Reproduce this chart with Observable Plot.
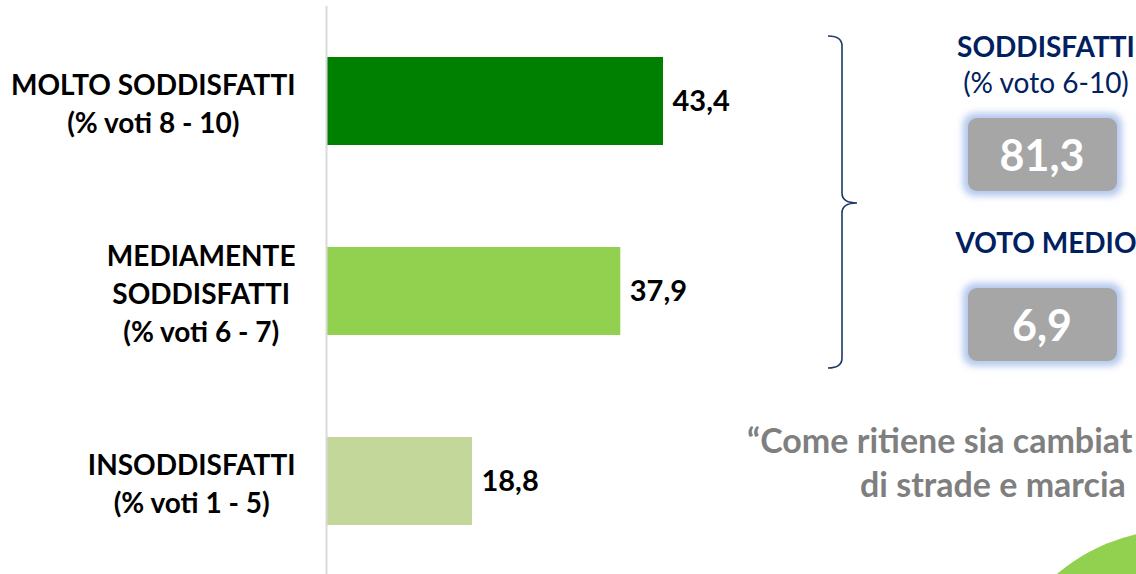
<!DOCTYPE html>
<html>
<head>
<meta charset="utf-8">
<script src="https://cdn.jsdelivr.net/npm/d3@7"></script>
<script src="https://cdn.jsdelivr.net/npm/@observablehq/plot@0.6"></script>
<style>
  html, body { margin: 0; padding: 0; background: #fff; }
  #chart { width: 1136px; height: 574px; overflow: hidden; position: relative; }
  svg { font-family: Lato, "Open Sans", sans-serif; }
</style>
</head>
<body>
<div id="chart"></div>
<script>
// ---- data ----
const categories = ["MOLTO SODDISFATTI\n(% voti 8 - 10)", "MEDIAMENTE\nSODDISFATTI\n(% voti 6 - 7)", "INSODDISFATTI\n(% voti 1 - 5)"];
const values = [43.4, 37.9, 18.8];
const barColors = ["#008000", "#92d050", "#c4d79b"];
const summaryTitles = ["SODDISFATTI", "VOTO MEDIO"];
const summarySubtitles = ["(% voto 6-10)", ""];
const summaryValues = [81.3, 6.9];
const questionLines = ["\u201cCome ritiene sia cambiat", "di strade e marcia"];

const fmt = v => v.toFixed(1).replace(".", ",");
const data = categories.map((c, i) => ({cat: c, value: values[i], color: barColors[i]}));

const plot = Plot.plot({
  width: 1136,
  height: 574,
  marginLeft: 326,
  marginRight: 33.5,
  marginTop: 6,
  marginBottom: 0,
  x: {domain: [0, 100], axis: null},
  y: {domain: categories, range: [6, 576], paddingInner: 0.537, paddingOuter: 0.2685, axis: null},
  marks: [
    Plot.barX(data, {x: "value", y: "cat", fill: "color"}),
    Plot.ruleX([0], {stroke: "#d9d9d9", strokeWidth: 2}),
    Plot.text(data, {x: "value", y: "cat", text: d => fmt(d.value), dx: 9, textAnchor: "start",
      fontSize: 29, fontWeight: "bold", fill: "#000"}),
    Plot.text(data, {y: "cat", text: "cat", frameAnchor: "left", textAnchor: "end", dx: -31,
      lineHeight: 1.36, fontSize: 28, fontWeight: "bold", fill: "#000", className: "cat-label"})
  ]
});

document.getElementById("chart").appendChild(plot);

// center multi-line category labels on their widest line (right edge at the same place)
d3.select(plot).selectAll(".cat-label text").each(function() {
  const w = this.getBBox().width;
  d3.select(this).attr("text-anchor", "middle");
  d3.select(this).selectAll("tspan").attr("x", -w / 2);
});

// ---- right-side annotations ----
const svg = d3.select(plot);
const defs = svg.append("defs");
const f = defs.append("filter").attr("id", "glow").attr("x", "-30%").attr("y", "-40%").attr("width", "160%").attr("height", "180%");
f.append("feGaussianBlur").attr("stdDeviation", 3.5);

const ann = svg.append("g");

// green circle bottom-right
ann.append("circle").attr("cx", 1180).attr("cy", 720).attr("r", 191).attr("fill", "#92d050");

// bracket
ann.append("path")
  .attr("d", "M828,36 Q842,36 842,46 L842,193 Q842,203 857,203 Q842,203 842,213 L842,358 Q842,368 828,368")
  .attr("fill", "none").attr("stroke", "#1f3864").attr("stroke-width", 1.6);

const boxes = [{y: 118}, {y: 288}];
const titleY = [57, 253];
summaryTitles.forEach((t, i) => {
  ann.append("text").attr("x", 1046).attr("y", titleY[i]).attr("text-anchor", "middle")
    .attr("font-size", 28).attr("font-weight", "bold").attr("fill", "#002060").text(t);
  if (summarySubtitles[i]) {
    ann.append("text").attr("x", 1046).attr("y", titleY[i] + 36).attr("text-anchor", "middle")
      .attr("font-size", 28).attr("fill", "#002060").text(summarySubtitles[i]);
  }
  const by = boxes[i].y;
  ann.append("rect").attr("x", 963).attr("y", by - 5).attr("width", 159).attr("height", 83).attr("rx", 12)
    .attr("fill", "#b4c7ee").attr("filter", "url(#glow)");
  ann.append("rect").attr("x", 968).attr("y", by).attr("width", 149).attr("height", 73).attr("rx", 9)
    .attr("fill", "#a6a6a6");
  ann.append("text").attr("x", 1042).attr("y", by + 53).attr("text-anchor", "middle")
    .attr("font-size", 43).attr("font-weight", "bold").attr("fill", "#fff").text(fmt(summaryValues[i]));
});

// question text (cut by the right edge in the original)
const qx = [747, 860];
const qy = [453, 497];
questionLines.forEach((t, i) => {
  ann.append("text").attr("x", qx[i]).attr("y", qy[i]).attr("text-anchor", "start")
    .attr("font-size", 34).attr("font-weight", "bold").attr("fill", "#7f7f7f").text(t);
});
</script>
</body>
</html>
